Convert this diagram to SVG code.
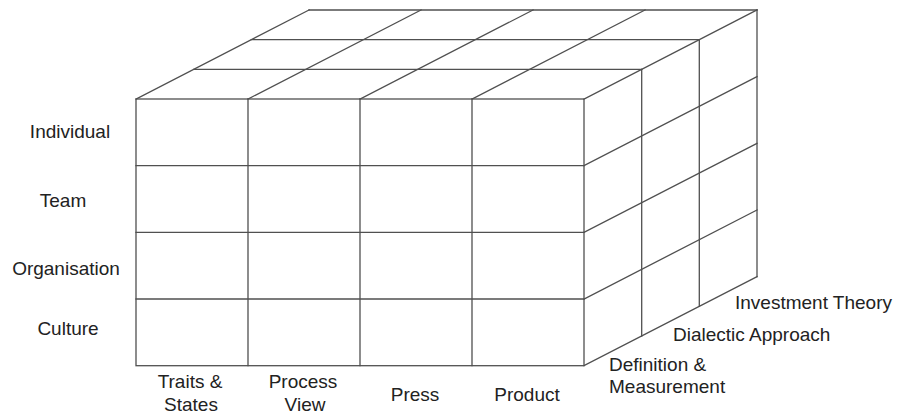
<svg xmlns="http://www.w3.org/2000/svg" width="899" height="415" viewBox="0 0 899 415">
<style>
.g{fill:none;stroke:#505050;stroke-width:1.3;stroke-linecap:square}
.t{font-family:"Liberation Sans",Arial,sans-serif;font-size:19px;fill:#222}
.c{text-anchor:middle}
</style>
<rect width="899" height="415" fill="#fff"/>
<g id="front-face" class="g">
<rect x="136" y="99" width="448" height="266.7"/>
<path d="M248 99V365.7M360 99V365.7M472 99V365.7M136 165.7H584M136 232.3H584M136 299H584"/>
</g>
<g id="top-face" class="g">
<path d="M193.7 69.3H641.7M251.3 39.7H699.3M309 10H757"/>
<path d="M136 99L309 10M248 99L421 10M360 99L533 10M472 99L645 10M584 99L757 10"/>
</g>
<g id="side-face" class="g">
<path d="M641.7 69.3V336M699.3 39.7V306.3M757 10V276.7"/>
<path d="M584 165.7L757 76.7M584 232.3L757 143.3M584 299L757 210M584 365.7L757 276.7"/>
</g>
<g id="row-labels" class="t c">
<text x="70" y="138">Individual</text>
<text x="63" y="207">Team</text>
<text x="66" y="275">Organisation</text>
<text x="68" y="335">Culture</text>
</g>
<g id="column-labels" class="t c">
<text x="190" y="388">Traits &amp;</text>
<text x="191" y="411">States</text>
<text x="303" y="388">Process</text>
<text x="305" y="411">View</text>
<text x="415" y="401">Press</text>
<text x="527" y="401">Product</text>
</g>
<g id="depth-labels" class="t">
<text x="735" y="309">Investment Theory</text>
<text x="673" y="341">Dialectic Approach</text>
<text x="609" y="371">Definition &amp;</text>
<text x="609" y="393">Measurement</text>
</g>
</svg>
